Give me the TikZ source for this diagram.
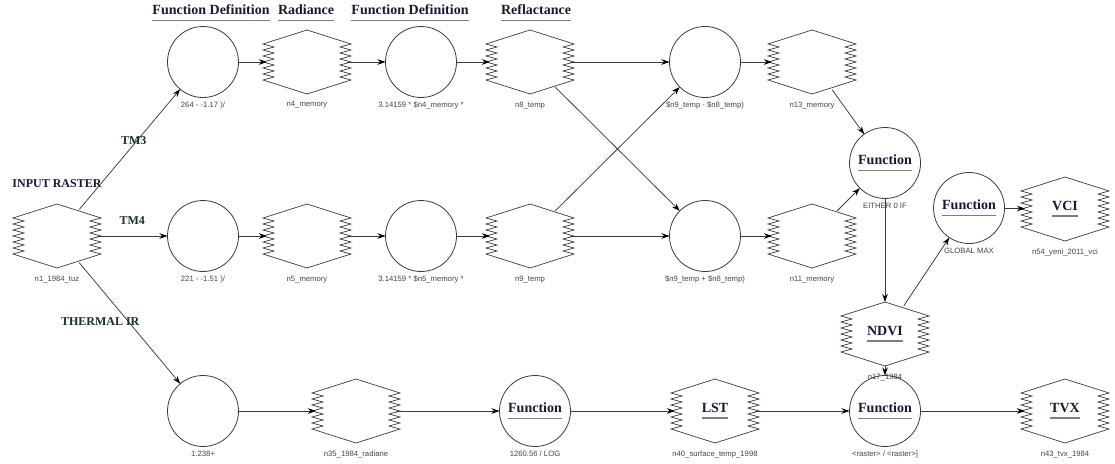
\documentclass[tikz,border=0pt]{standalone}
\usepackage{fontspec}
\setmainfont{Liberation Serif}
\newfontfamily\labfont{Liberation Sans}
\usetikzlibrary{shapes.geometric, calc, arrows.meta}

\definecolor{headcol}{RGB}{28,22,56}
\definecolor{tmcol}{RGB}{24,50,30}
\definecolor{ulgray}{RGB}{125,125,125}
\definecolor{labgray}{RGB}{70,70,70}
\definecolor{linegray}{RGB}{60,60,60}

% bold title with the grey bar under it
\newcommand{\ultext}[1]{\setbox0\hbox{#1}\rlap{\textcolor{ulgray}{\rule[-6.5pt]{\wd0}{1.6pt}}}\box0}
% hexagon with saw-tooth sides round a raster node
\newcommand{\rasteroutline}[1]{%
  \draw[rasterline] ($(#1)+(0,-32)$) -- ($(#1)+(44,-18)$)
    \foreach \k in {1,...,6} { -- ++(-11,3) -- ++(11,3) }
    -- ($(#1)+(0,32)$) -- ($(#1)+(-44,18)$)
    \foreach \k in {1,...,6} { -- ++(11,-3) -- ++(-11,-3) }
    -- cycle;}

\begin{document}
\begin{tikzpicture}[x=1pt, y=-1pt,
  raster/.style={ellipse, minimum width=80pt, minimum height=64pt, inner sep=0pt, outer sep=0pt,
    font=\fontsize{14}{14}\selectfont\bfseries, text=headcol},
  fn/.style={circle, draw=linegray, line width=.8pt, minimum size=71pt, inner sep=0pt, outer sep=0pt,
    font=\fontsize{14}{14}\selectfont\bfseries, text=headcol},
  rasterline/.style={draw=linegray, line width=.7pt},
  lab/.style={font=\labfont\fontsize{7.7}{8}\selectfont, text=labgray, inner sep=1pt, label distance=3pt},
  rlab/.style={lab, label distance=6.5pt},
  inlab/.style={font=\fontsize{12}{12}\selectfont\bfseries, text=headcol, inner sep=1pt, label distance=15pt},
  head/.style={font=\fontsize{14}{14}\selectfont\bfseries, text=headcol, inner sep=0pt},
  edgelab/.style={font=\fontsize{12}{12}\selectfont\bfseries, text=tmcol, inner sep=1pt},
  flow/.style={draw=linegray, line width=.75pt, -{Stealth[length=8pt, width=5.5pt, black]}}]
  \path[fill=white, use as bounding box] (0,0) rectangle (1115,463);

  % headings
  \node[head] (h1) at (211,13) {\ultext{Function Definition}};
  \node[head] (h2) at (306,13) {\ultext{Radiance}};
  \node[head] (h3) at (410,13) {\ultext{Function Definition}};
  \node[head] (h4) at (536,13) {\ultext{Reflactance}};

  \node[raster, label={[rlab]below:n1\_1984\_tuz}, label={[inlab]above:INPUT RASTER}] (n1) at (57,236) {};

  % band 3
  \node[fn, label={[lab]below:264 - -1.17 )/}] (c1) at (203,62) {};
  \node[raster, label={[rlab]below:n4\_memory}] (n4) at (307,62) {};
  \node[fn, label={[lab]below:3.14159 * \$n4\_memory *}] (c2) at (421,62) {};
  \node[raster, label={[rlab]below:n8\_temp}] (n8) at (530,62) {};
  \node[fn, label={[lab]below:\$n9\_temp - \$n8\_temp)}] (c3) at (705,62) {};
  \node[raster, label={[rlab]below:n13\_memory}] (n13) at (812,62) {};

  % band 4
  \node[fn, label={[lab]below:221 - -1.51 )/}] (c4) at (203,236) {};
  \node[raster, label={[rlab]below:n5\_memory}] (n5) at (307,236) {};
  \node[fn, label={[lab]below:3.14159 * \$n5\_memory *}] (c5) at (421,236) {};
  \node[raster, label={[rlab]below:n9\_temp}] (n9) at (530,236) {};
  \node[fn, label={[lab]below:\$n9\_temp + \$n8\_temp)}] (c6) at (705,236) {};
  \node[raster, label={[rlab]below:n11\_memory}] (n11) at (812,236) {};

  \node[fn, label={[lab]below:EITHER 0 IF}] (f1) at (885,163) {\ultext{Function}};
  \node[raster, label={[rlab]below:n17\_1984}] (ndvi) at (885,334) {\ultext{NDVI}};
  \node[fn, label={[lab]below:GLOBAL MAX}] (f2) at (969,208) {\ultext{Function}};
  \node[raster, label={[rlab]below:n54\_yeni\_2011\_vci}] (vci) at (1065,209) {\ultext{VCI}};

  % thermal band
  \node[fn, label={[lab]below:1.238+}] (c7) at (203,411) {};
  \node[raster, label={[rlab]below:n35\_1984\_radiane}] (n35) at (356,411) {};
  \node[fn, label={[lab]below:1260.56 / LOG}] (f3) at (535,411) {\ultext{Function}};
  \node[raster, label={[rlab]below:n40\_surface\_temp\_1998}] (lst) at (715,411) {\ultext{LST}};
  \node[fn, label={[lab]below:{<raster> / <raster>]}}] (f4) at (885,411) {\ultext{Function}};
  \node[raster, label={[rlab]below:n43\_tvx\_1984}] (tvx) at (1065,411) {\ultext{TVX}};

  \foreach \r in {n1,n4,n8,n13,n5,n9,n11,ndvi,vci,n35,lst,tvx}
    \rasteroutline{\r};

  \draw[flow] (n1) -- node[edgelab, pos=.57, anchor=east, xshift=11pt] {TM3} (c1);
  \draw[flow] (n1) -- node[edgelab, above=10pt] {TM4} (c4);
  \draw[flow] (n1) -- node[edgelab, pos=.49, anchor=east, xshift=12pt] {THERMAL IR} (c7);
  \foreach \a/\b in {c1/n4, n4/c2, c2/n8, n8/c3, c3/n13, n13/f1,
                     c4/n5, n5/c5, c5/n9, n9/c6, c6/n11, n11/f1,
                     n8/c6, n9/c3, f1/ndvi, ndvi/f2, f2/vci, ndvi/f4,
                     c7/n35, n35/f3, f3/lst, lst/f4, f4/tvx}
    \draw[flow] (\a) -- (\b);
\end{tikzpicture}
\end{document}
